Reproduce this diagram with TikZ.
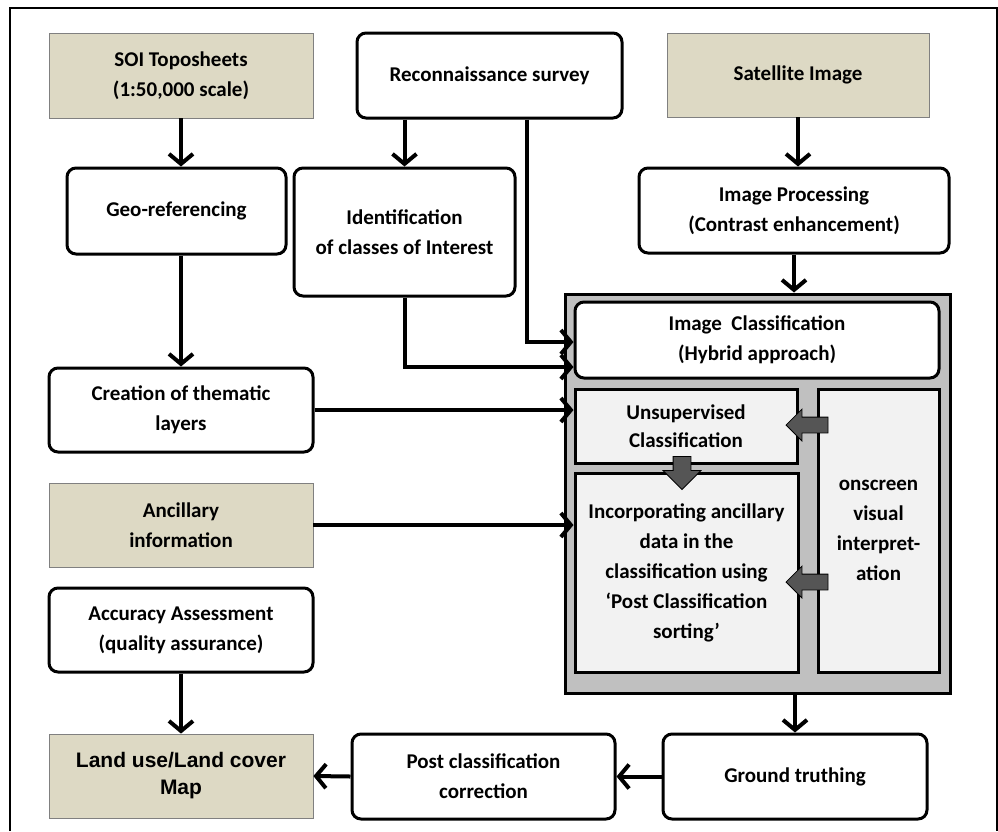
\documentclass[tikz,border=0pt]{standalone}
\usepackage{fontspec}
\setmainfont{Carlito}
\newfontfamily\mapfont{Liberation Sans}
\usetikzlibrary{arrows.meta,shapes.arrows}
\definecolor{tanfill}{HTML}{DDD9C4}
\definecolor{outerfill}{HTML}{C0C0C0}
\definecolor{innerfill}{HTML}{F2F2F2}
\definecolor{blockgray}{HTML}{555555}
\newcommand{\boxfont}{\fontsize{21}{30}\selectfont\bfseries}

\begin{document}
\begin{tikzpicture}[x=1pt,y=-1pt,
	every node/.style={inner sep=0pt,align=center,font=\boxfont},
	box/.style={draw,line width=3pt,rounded corners=9pt,fill=white},
	tanbox/.style={draw=gray,line width=0.8pt,fill=tanfill},
	innerbox/.style={draw,line width=3pt,fill=innerfill},
	conn/.style={line width=4pt,-{Straight Barb[length=10pt,width=24pt]}},
	blockarrow/.style={single arrow,draw,line width=0.8pt,fill=blockgray,inner sep=7.5pt,single arrow head extend=8pt,minimum height=42pt}]
		\useasboundingbox (0,0) rectangle (998,831);
		\draw [line width=1.2pt] (10,831) -- (10,8) -- (997,8) -- (997,831);
		\node [tanbox,minimum width=264pt,minimum height=85pt] (soi) at (181,75.5) {SOI Toposheets\\(1:50,000 scale)};
		\node [box,minimum width=265pt,minimum height=85pt] (recon) at (489.5,75.5) {Reconnaissance survey};
		\node [tanbox,minimum width=262pt,minimum height=84pt] (sat) at (798,75) {Satellite Image};
		\node [box,minimum width=219pt,minimum height=86pt] (geo) at (176.5,211) {Geo-referencing};
		\node [box,minimum width=221pt,minimum height=128pt] (ident) at (404.5,232) {Identification\\of classes of Interest};
		\node [box,minimum width=310pt,minimum height=85pt] (proc) at (794,210.5) {Image Processing\\(Contrast enhancement)};
		\node [draw,line width=3pt,fill=outerfill,minimum width=385pt,minimum height=399pt] (outer) at (757.5,493.5) {};
		\node [box,minimum width=364pt,minimum height=76pt] (cls) at (757,340) {Image~ Classification\\(Hybrid approach)};
		\node [innerbox,minimum width=222pt,minimum height=74pt] (unsup) at (686,426) {Unsupervised\\[-2pt]Classification};
		\node [innerbox,minimum width=223pt,minimum height=199pt] (incorp) at (686.5,572.5) {Incorporating ancillary\\data in the\\classification using\\`Post Classification\\sorting'};
		\node [innerbox,minimum width=121pt,minimum height=283pt] (onscr) at (878.5,530.5) {onscreen\\visual\\interpret-\\ation};
		\node [box,minimum width=264pt,minimum height=84pt] (create) at (181,410) {Creation of thematic\\layers};
		\node [tanbox,minimum width=264pt,minimum height=84pt] (ancil) at (181,525) {Ancillary\\information};
		\node [box,minimum width=264pt,minimum height=84pt] (acc) at (181,630) {Accuracy Assessment\\(quality assurance)};
		\node [tanbox,minimum width=264pt,minimum height=84pt,font={\mapfont\fontsize{21}{27}\selectfont\bfseries}] (land) at (181,776) {Land use/Land cover\\Map};
		\node [box,minimum width=263pt,minimum height=85pt] (post) at (483.5,776.5) {Post classification\\correction};
		\node [box,minimum width=264pt,minimum height=85pt] (ground) at (795,776.5) {Ground truthing};
		\node [blockarrow,shape border rotate=180] (ba1) at (811,425) {};
		\node [blockarrow,shape border rotate=180] (ba2) at (811,582) {};
		\node [blockarrow,shape border rotate=270,inner sep=8.5pt,single arrow head extend=10pt,minimum height=33pt] (ba3) at (682,468.5) {};
		\coordinate (rs) at ([xshift=-97pt]recon.south east);
		\draw [conn] (soi.south) -- (soi.south |- geo.north);
		\draw [conn] (recon.south -| ident.north) -- (ident.north);
		\draw [conn] (rs) |- ([yshift=-2pt]cls.west);
		\draw [conn] (ident.south) |- ([yshift=-27pt]cls.west);
		\draw [conn] (geo.south -| create.north) -- (create.north);
		\draw [conn] (sat.south) -- (sat.south |- proc.north);
		\draw [conn] (proc.south) -- (proc.south |- outer.north);
		\draw [conn] (create.east) -- (create.east -| unsup.west);
		\draw [conn] (ancil.east) -- (ancil.east -| incorp.west);
		\draw [conn] (acc.south) -- (land.north);
		\draw [conn] (post.west) -- (land.east);
		\draw [conn] (ground.west) -- (post.east);
		\draw [conn] (ground.north |- outer.south) -- (ground.north);
	\end{tikzpicture}
\end{document}
